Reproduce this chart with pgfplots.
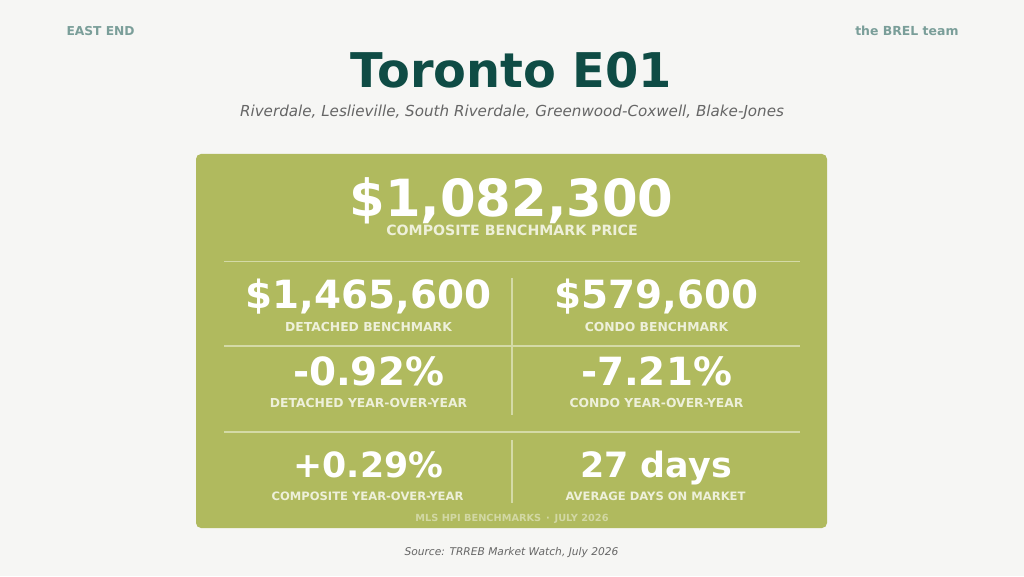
\documentclass[border=0pt]{standalone}
\usepackage{pgfplots}
\pgfplotsset{compat=1.18}
\usepackage{fontspec}
\setmainfont{DejaVu Sans}
\definecolor{bgcol}{HTML}{F6F6F4}
\definecolor{panel}{HTML}{B0BA5E}
\definecolor{titlecol}{HTML}{0F4C45}
\definecolor{cornercol}{HTML}{7A9E99}
\definecolor{subcol}{HTML}{666666}
\definecolor{labcol}{HTML}{EEF0DA}
\definecolor{linecol}{HTML}{D4DAA6}
\definecolor{faintcol}{HTML}{D2D8A4}
\newcommand{\fs}[1]{\fontsize{#1}{#1}\selectfont}
\begin{document}
\begin{tikzpicture}
\begin{axis}[scale only axis, width=1024bp, height=576bp,
  xmin=0, xmax=1024, ymin=0, ymax=576, hide axis, clip=false,
  every node/.style={inner sep=0pt, outer sep=0pt}]
\fill[bgcol] (axis cs:0,0) rectangle (axis cs:1024,576);
\fill[panel, rounded corners=5bp] (axis cs:196,48) rectangle (axis cs:827,422);
% separator lines
\addplot[linecol, line width=1.1bp, forget plot] coordinates {(224,314.3) (800,314.3)};
\addplot[linecol, line width=1.1bp, forget plot] coordinates {(224,230) (800,230)};
\addplot[linecol, line width=1.1bp, forget plot] coordinates {(224,144) (800,144)};
\addplot[linecol, line width=1.1bp, forget plot] coordinates {(512,298) (512,161)};
\addplot[linecol, line width=1.1bp, forget plot] coordinates {(512,136) (512,73)};
% header
\node[anchor=base west, text=cornercol] at (axis cs:63,540) {\fs{12.3}\bfseries EAST END};
\node[anchor=base east, text=cornercol] at (axis cs:962,540) {\fs{12.5}\bfseries the BREL team};
\node[anchor=base, text=titlecol] at (axis cs:511.5,488) {\fs{48}\bfseries Toronto E01};
\node[anchor=base, text=subcol] at (axis cs:512,459) {\fs{15.2}\itshape Riverdale, Leslieville, South Riverdale, Greenwood-Coxwell, Blake-Jones};
% composite
\node[anchor=base, text=white] at (axis cs:511.5,359) {\fs{51.4}\bfseries \$1,082,300};
\node[anchor=base, text=labcol] at (axis cs:512,340) {\fs{14.2}\bfseries COMPOSITE BENCHMARK PRICE};
% row 1
\node[anchor=base, text=white] at (axis cs:368.5,267) {\fs{39}\bfseries \$1,465,600};
\node[anchor=base, text=labcol] at (axis cs:368.5,244) {\fs{12.4}\bfseries DETACHED BENCHMARK};
\node[anchor=base, text=white] at (axis cs:656.5,267) {\fs{39}\bfseries \$579,600};
\node[anchor=base, text=labcol] at (axis cs:656.5,244) {\fs{12.4}\bfseries CONDO BENCHMARK};
% row 2
\node[anchor=base, text=white] at (axis cs:368.5,191) {\fs{39}\bfseries -0.92\%};
\node[anchor=base, text=labcol] at (axis cs:368.5,169) {\fs{12.4}\bfseries DETACHED YEAR-OVER-YEAR};
\node[anchor=base, text=white] at (axis cs:656.5,191) {\fs{39}\bfseries -7.21\%};
\node[anchor=base, text=labcol] at (axis cs:656.5,169) {\fs{12.4}\bfseries CONDO YEAR-OVER-YEAR};
% row 3
\node[anchor=base, text=white] at (axis cs:368.5,99) {\fs{34.9}\bfseries +0.29\%};
\node[anchor=base, text=labcol] at (axis cs:367.5,76) {\fs{11.6}\bfseries COMPOSITE YEAR-OVER-YEAR};
\node[anchor=base, text=white] at (axis cs:656,99) {\fs{35}\bfseries 27 days};
\node[anchor=base, text=labcol] at (axis cs:655.5,76) {\fs{11.6}\bfseries AVERAGE DAYS ON MARKET};
% footer
\node[anchor=base, text=faintcol] at (axis cs:512,55) {\fs{9.8}\bfseries MLS HPI BENCHMARKS\enspace·\enspace JULY 2026};
\node[anchor=base, text=subcol] at (axis cs:511.5,21) {\fs{10.7}\itshape Source: TRREB Market Watch, July 2026};
\end{axis}
\end{tikzpicture}
\end{document}
